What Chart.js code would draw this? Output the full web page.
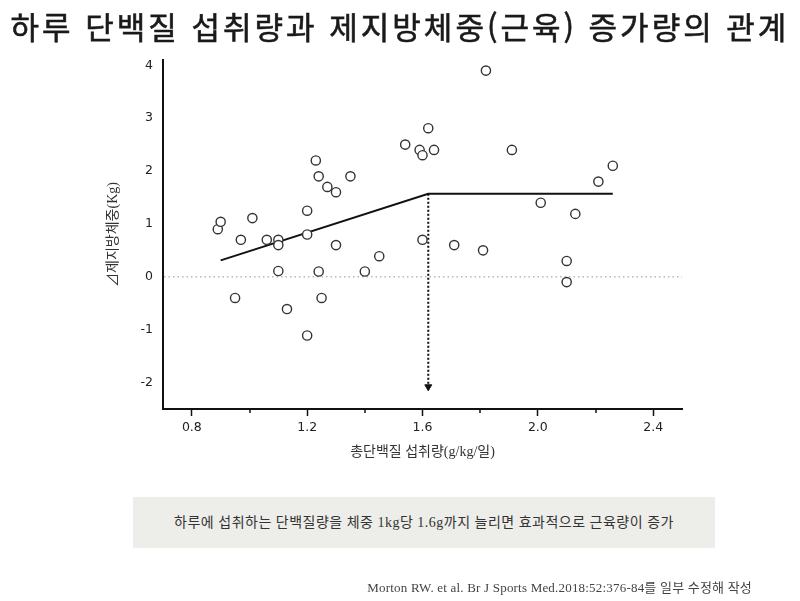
<!DOCTYPE html>
<html lang="ko">
<head>
<meta charset="utf-8">
<script src="https://cdn.jsdelivr.net/npm/chart.js@4/dist/chart.umd.min.js"></script>
<style>
  body { margin: 0; background: #fff; }
  #wrap { position: relative; width: 800px; height: 601px; overflow: hidden; }
  #chart { position: absolute; left: 0; top: 0; }
  .title {
    position: absolute; left: 0; top: 6px; width: 800px;
    font: 400 31px "Noto Sans CJK KR", sans-serif; line-height: 40px; letter-spacing: 3px;
    -webkit-text-stroke: 0.6px #1a1a1a;
    text-align: center; color: #1a1a1a;
  }
  .note {
    position: absolute; left: 133px; top: 497px; width: 582px; height: 51px;
    font: 14px "Liberation Serif", "Noto Sans CJK KR", serif; line-height: 51px; letter-spacing: 0.5px;
    background: #ededea; text-align: center; color: #333;
  }
  .src {
    position: absolute; right: 48px; top: 581px;
    font: 13px "Liberation Serif", "Noto Sans CJK KR", serif; line-height: 14px; letter-spacing: 0.2px;
    color: #444;
  }
</style>
</head>
<body>
<div id="wrap">
  <canvas id="chart" width="800" height="601"></canvas>
  <div class="title">하루 단백질 섭취량과 제지방체중(근육) 증가량의 관계</div>
  <div class="note">하루에 섭취하는 단백질량을 체중 1kg당 1.6g까지 늘리면 효과적으로 근육량이 증가</div>
  <div class="src">Morton RW. et al. Br J Sports Med.2018:52:376-84를 일부 수정해 작성</div>
</div>
<script>
// Data
const proteinIntake = [0.89, 0.90, 0.97, 1.01, 1.06, 1.10, 1.10, 1.10, 1.20, 1.20,
                       1.23, 1.24, 1.24, 1.27, 1.30, 1.30, 1.35, 1.40, 1.45, 1.54,
                       1.59, 1.60, 1.62, 1.64, 1.60, 1.82, 1.91, 2.26, 2.21, 2.01,
                       2.13, 1.71, 1.81, 2.10, 2.10, 0.95, 1.13, 1.20, 1.25];
const leanMassGain = [0.90, 1.04, 0.70, 1.11, 0.70, 0.70, 0.60, 0.11, 1.25, 0.80,
                      2.20, 1.90, 0.10, 1.70, 1.60, 0.60, 1.90, 0.10, 0.39, 2.50,
                      2.40, 2.30, 2.81, 2.40, 0.70, 3.90, 2.40, 2.10, 1.80, 1.40,
                      1.19, 0.60, 0.50, 0.30, -0.10, -0.40, -0.61, -1.11, -0.40];

// Breakpoint regression line
const fitX = [0.90, 1.62, 2.26];
const fitY = [0.31, 1.57, 1.57];

// Dotted arrow from the breakpoint down to the x axis
const arrowX = [1.62, 1.62];
const arrowY = [1.57, -2.08];

// Axis ticks
const xTicks = [0.8, 1.2, 1.6, 2.0, 2.4];
const xMinorTicks = [1.0, 1.4, 1.8, 2.2];
const yTicks = [-2, -1, 0, 1, 2, 3, 4];

const toPoints = (xs, ys) => xs.map((x, i) => ({ x: x, y: ys[i] }));
const tickFont = { family: "'DejaVu Sans', sans-serif", size: 12.5 };
const serifFont = { family: "'Liberation Serif', 'Noto Sans CJK KR', serif", size: 14 };

// short unlabeled ticks between the labeled ones
const minorTicks = {
  id: "minorTicks",
  afterDraw(chart) {
    const x = chart.scales.x, ctx = chart.ctx;
    ctx.save();
    ctx.strokeStyle = "#111";
    ctx.lineWidth = 1.5;
    xMinorTicks.forEach(v => {
      const px = Math.round(x.getPixelForValue(v));
      ctx.beginPath();
      ctx.moveTo(px, x.top);
      ctx.lineTo(px, x.top + 4);
      ctx.stroke();
    });
    ctx.restore();
  }
};

new Chart(document.getElementById("chart"), {
  type: "scatter",
  data: {
    datasets: [
      {
        label: "참가자",
        data: toPoints(proteinIntake, leanMassGain),
        pointRadius: 4.6,
        pointBackgroundColor: "#fff",
        pointBorderColor: "#333",
        pointBorderWidth: 1.4
      },
      {
        label: "회귀선",
        data: toPoints(fitX, fitY),
        showLine: true,
        borderColor: "#111",
        borderWidth: 2,
        pointRadius: 0
      },
      {
        label: "절단점",
        data: toPoints(arrowX, arrowY),
        showLine: true,
        borderColor: "#111",
        borderWidth: 2,
        borderDash: [2, 2],
        pointRadius: [0, 4],
        pointStyle: "triangle",
        rotation: 180,
        pointBackgroundColor: "#111",
        pointBorderColor: "#111",
        pointBorderWidth: 1
      }
    ]
  },
  options: {
    responsive: false,
    animation: false,
    layout: { padding: { left: 100, right: 118, top: 60, bottom: 132 } },
    plugins: { legend: { display: false }, tooltip: { enabled: false } },
    scales: {
      x: {
        type: "linear",
        min: 0.7,
        max: 2.5,
        afterBuildTicks: s => { s.ticks = xTicks.map(v => ({ value: v })); },
        afterFit: s => { s.height = 60; },
        ticks: {
          autoSkip: false,
          maxRotation: 0,
          padding: 4,
          color: "#222",
          font: tickFont,
          callback: v => v.toFixed(1)
        },
        grid: { drawOnChartArea: false, drawTicks: true, tickLength: 7, tickColor: "#111", tickWidth: 1.5 },
        border: { color: "#111", width: 2 },
        title: {
          display: true,
          text: "총단백질 섭취량(g/kg/일)",
          color: "#333",
          font: serifFont,
          padding: { top: 0, bottom: 8 }
        }
      },
      y: {
        min: -2.5,
        max: 4.1,
        afterBuildTicks: s => { s.ticks = yTicks.map(v => ({ value: v })); },
        afterFit: s => { s.width = 63; },
        ticks: { padding: 10, color: "#222", font: tickFont },
        grid: {
          drawTicks: false,
          lineWidth: 1.5,
          color: c => (c.tick && c.tick.value === 0) ? "#b8b8b8" : "rgba(0,0,0,0)"
        },
        border: { color: "#111", width: 2, dash: [1.5, 3] },
        title: {
          display: true,
          text: "⊿제지방체중(Kg)",
          color: "#333",
          font: serifFont,
          padding: { top: 5, bottom: 0 }
        }
      }
    }
  },
  plugins: [minorTicks]
});
</script>
</body>
</html>
